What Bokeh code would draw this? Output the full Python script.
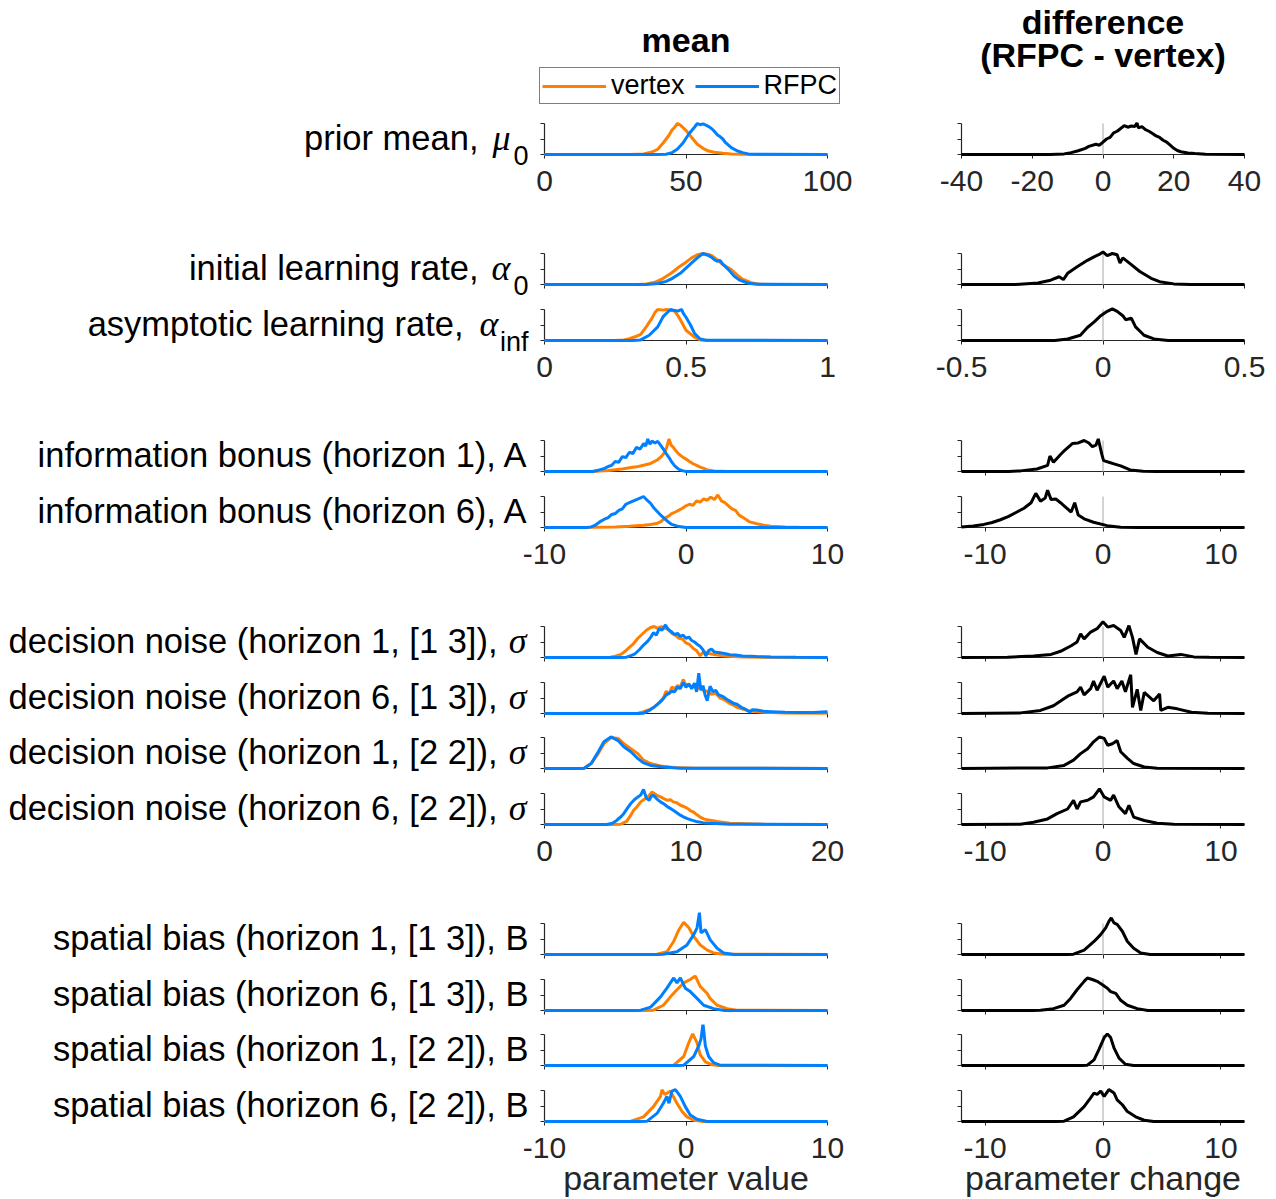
from bokeh.plotting import figure
from bokeh.models import Range1d, FixedTicker, Label, Legend, LegendItem, CustomJSTickFormatter
from bokeh.layouts import column, row
from bokeh.embed import file_html
from bokeh.resources import INLINE

# ---------------- data (y normalised to panel max) -------------
row_labels = [
    "prior mean,", "initial learning rate,", "asymptotic learning rate,",
    "information bonus (horizon 1), A", "information bonus (horizon 6), A",
    "decision noise (horizon 1, [1 3]),", "decision noise (horizon 6, [1 3]),",
    "decision noise (horizon 1, [2 2]),", "decision noise (horizon 6, [2 2]),",
    "spatial bias (horizon 1, [1 3]), B", "spatial bias (horizon 6, [1 3]), B",
    "spatial bias (horizon 1, [2 2]), B", "spatial bias (horizon 6, [2 2]), B",
]
row_symbols = ["μ", "α", "α", None, None, "σ", "σ", "σ", "σ", None, None, None, None]
row_subscripts = ["0", "0", "inf", None, None, None, None, None, None, None, None, None, None]

left_ranges = [(0, 100), (0, 1), (0, 1), (-10, 10), (-10, 10), (0, 20), (0, 20), (0, 20), (0, 20),
               (-10, 10), (-10, 10), (-10, 10), (-10, 10)]
right_ranges = [(-40, 40), (-0.5, 0.5), (-0.5, 0.5)] + [(-12, 12)] * 10
left_ticks = [[0, 50, 100], [0, 0.5, 1], [0, 0.5, 1], [-10, 0, 10], [-10, 0, 10],
              [0, 10, 20], [0, 10, 20], [0, 10, 20], [0, 10, 20],
              [-10, 0, 10], [-10, 0, 10], [-10, 0, 10], [-10, 0, 10]]
right_ticks = [[-40, -20, 0, 20, 40], [-0.5, 0, 0.5], [-0.5, 0, 0.5]] + [[-10, 0, 10]] * 10
y_ticks = [0, 0.5, 1]
no_change = 0

# row 1: prior mean
r1_vertex_x = [0, 30, 35, 38, 40, 42, 44, 45, 46, 47, 48, 50, 52, 54, 56, 58, 60, 63, 66, 70, 75, 100]
r1_vertex_y = [0, 0, 0.02, 0.08, 0.17, 0.38, 0.62, 0.78, 0.88, 1.0, 0.95, 0.78, 0.55, 0.33, 0.2, 0.11, 0.07, 0.04, 0.02, 0.01, 0, 0]
r1_rfpc_x = [0, 40, 43, 45, 47, 49, 51, 53, 54, 55, 56, 57, 58, 59, 60, 61, 62, 63, 64, 65, 66, 68, 70, 72, 75, 100]
r1_rfpc_y = [0, 0, 0.01, 0.06, 0.18, 0.38, 0.66, 0.88, 1.0, 0.96, 0.99, 0.95, 0.9, 0.84, 0.75, 0.64, 0.58, 0.5, 0.38, 0.3, 0.22, 0.12, 0.06, 0.02, 0.01, 0]
r1_diff_x = [-40, -15, -11, -9, -7, -5, -4, -2, -1, 0, 1, 2, 3, 4, 5, 6, 7, 8, 9, 9.6, 10, 11, 12, 13, 14, 15, 16, 17, 18, 19, 20, 21, 22, 24, 26, 29, 40]
r1_diff_y = [0, 0, 0.02, 0.06, 0.12, 0.2, 0.26, 0.33, 0.3, 0.4, 0.5, 0.55, 0.7, 0.75, 0.84, 0.93, 0.88, 0.92, 0.9, 1.02, 0.86, 0.9, 0.8, 0.75, 0.68, 0.6, 0.55, 0.46, 0.4, 0.3, 0.2, 0.13, 0.09, 0.05, 0.03, 0.01, 0]

# row 2: initial learning rate
r2_vertex_x = [0, 0.33, 0.36, 0.39, 0.42, 0.45, 0.47, 0.50, 0.52, 0.54, 0.56, 0.58, 0.59, 0.61, 0.63, 0.66, 0.68, 0.70, 0.73, 0.76, 0.8, 1]
r2_vertex_y = [0, 0, 0.02, 0.07, 0.2, 0.38, 0.53, 0.72, 0.86, 0.96, 1.0, 0.97, 0.94, 0.8, 0.64, 0.48, 0.31, 0.17, 0.06, 0.01, 0, 0]
r2_rfpc_x = [0, 0.36, 0.40, 0.43, 0.45, 0.48, 0.50, 0.52, 0.54, 0.56, 0.58, 0.59, 0.60, 0.61, 0.62, 0.63, 0.65, 0.67, 0.69, 0.72, 0.75, 1]
r2_rfpc_y = [0, 0, 0.03, 0.1, 0.19, 0.36, 0.53, 0.7, 0.86, 1.0, 0.93, 0.88, 0.8, 0.75, 0.78, 0.66, 0.48, 0.27, 0.14, 0.04, 0.01, 0]
r2_diff_x = [-0.5, -0.31, -0.23, -0.185, -0.155, -0.14, -0.125, -0.09, -0.055, -0.03, -0.015, 0, 0.015, 0.033, 0.05, 0.06, 0.07, 0.1, 0.13, 0.17, 0.2, 0.25, 0.31, 0.5]
r2_diff_y = [0, 0, 0.05, 0.14, 0.25, 0.16, 0.36, 0.58, 0.78, 0.9, 0.96, 1.05, 0.93, 1.0, 0.96, 0.69, 0.86, 0.64, 0.42, 0.2, 0.09, 0.02, 0, 0]

# row 3: asymptotic learning rate
r3_vertex_x = [0, 0.25, 0.28, 0.30, 0.32, 0.34, 0.36, 0.38, 0.39, 0.40, 0.42, 0.43, 0.45, 0.46, 0.47, 0.48, 0.50, 0.53, 0.55, 0.58, 1]
r3_vertex_y = [0, 0, 0.02, 0.06, 0.12, 0.2, 0.45, 0.72, 0.9, 1.0, 0.98, 1.0, 0.97, 0.95, 0.82, 0.67, 0.33, 0.11, 0.02, 0, 0]
r3_rfpc_x = [0, 0.31, 0.34, 0.37, 0.40, 0.42, 0.445, 0.46, 0.47, 0.485, 0.49, 0.50, 0.516, 0.53, 0.55, 0.57, 1]
r3_rfpc_y = [0, 0, 0.02, 0.17, 0.44, 0.78, 1.0, 0.97, 0.95, 1.0, 0.88, 0.75, 0.5, 0.23, 0.05, 0.01, 0]
r3_diff_x = [-0.5, -0.17, -0.125, -0.08, -0.055, -0.03, -0.008, 0.015, 0.033, 0.05, 0.07, 0.08, 0.1, 0.115, 0.145, 0.18, 0.23, 0.5]
r3_diff_y = [0, 0, 0.05, 0.17, 0.42, 0.61, 0.8, 0.94, 1.02, 0.94, 0.8, 0.67, 0.72, 0.44, 0.17, 0.05, 0, 0]

# row 4: information bonus h1
r4_vertex_x = [-10, -6.6, -5.5, -4.5, -4.0, -3.5, -3.0, -2.5, -2.0, -1.75, -1.5, -1.35, -1.2, -1.05, -0.9, -0.7, -0.5, -0.25, 0, 0.25, 0.5, 0.75, 1.0, 1.25, 1.5, 2.0, 3.0, 10]
r4_vertex_y = [0, 0, 0.03, 0.08, 0.12, 0.15, 0.2, 0.26, 0.38, 0.48, 0.62, 0.8, 1.05, 0.85, 0.78, 0.66, 0.56, 0.47, 0.4, 0.32, 0.25, 0.2, 0.14, 0.1, 0.05, 0.02, 0, 0]
r4_rfpc_x = [-10, -6.6, -6.3, -6.0, -5.75, -5.5, -5.25, -5.0, -4.75, -4.5, -4.25, -4.0, -3.75, -3.5, -3.25, -3.0, -2.85, -2.7, -2.55, -2.4, -2.2, -2.0, -1.8, -1.6, -1.4, -1.2, -1.0, -0.8, -0.5, -0.2, 0, 10]
r4_rfpc_y = [0, 0, 0.03, 0.07, 0.1, 0.16, 0.2, 0.32, 0.3, 0.48, 0.45, 0.62, 0.58, 0.78, 0.72, 0.9, 0.82, 1.05, 0.88, 0.98, 0.92, 0.97, 0.85, 0.72, 0.58, 0.45, 0.3, 0.18, 0.07, 0.02, 0, 0]
r4_diff_x = [-12, -8, -7, -5.6, -4.7, -4.5, -4.2, -3.6, -3.2, -2.6, -2.1, -1.6, -1.2, -0.9, -0.6, -0.4, -0.1, 0.05, 0.5, 1.0, 1.5, 2.3, 3.4, 4.5, 12]
r4_diff_y = [0, 0, 0.02, 0.08, 0.2, 0.5, 0.3, 0.55, 0.7, 0.9, 0.92, 1.0, 0.92, 0.8, 0.85, 1.05, 0.55, 0.35, 0.3, 0.24, 0.18, 0.05, 0.01, 0, 0]

# row 5: information bonus h6
r5_vertex_x = [-10, -6.5, -5, -4, -3, -2.5, -2, -1.75, -1.5, -1.25, -1, -0.75, -0.5, -0.25, 0, 0.25, 0.5, 0.75, 1, 1.25, 1.5, 1.75, 2, 2.25, 2.5, 2.75, 3, 3.25, 3.5, 3.75, 4, 4.25, 4.5, 5, 5.5, 6, 7, 8, 10]
r5_vertex_y = [0, 0.01, 0.02, 0.04, 0.07, 0.1, 0.14, 0.2, 0.3, 0.36, 0.45, 0.5, 0.56, 0.62, 0.7, 0.75, 0.72, 0.86, 0.82, 0.92, 0.88, 0.98, 0.9, 1.05, 0.86, 0.8, 0.7, 0.6, 0.55, 0.4, 0.33, 0.26, 0.18, 0.12, 0.07, 0.04, 0.02, 0.005, 0]
r5_rfpc_x = [-10, -7, -6.7, -6.4, -6.1, -5.8, -5.5, -5.25, -5.0, -4.75, -4.5, -4.25, -4.0, -3.75, -3.5, -3.25, -3.0, -2.75, -2.5, -2.25, -2.0, -1.75, -1.5, -1.25, -1.0, -0.5, 0, 10]
r5_rfpc_y = [0, 0, 0.02, 0.08, 0.18, 0.26, 0.32, 0.42, 0.45, 0.55, 0.6, 0.75, 0.8, 0.85, 0.9, 0.95, 1.0, 0.88, 0.78, 0.62, 0.5, 0.38, 0.28, 0.18, 0.1, 0.03, 0, 0]
r5_diff_x = [-12, -11, -10.1, -9.4, -8.7, -8.0, -7.3, -6.7, -6.1, -5.7, -5.3, -4.9, -4.7, -4.4, -4.0, -3.6, -3.3, -2.7, -2.4, -2.1, -1.6, -0.8, 0.35, 1.5, 3, 12]
r5_diff_y = [0.02, 0.05, 0.1, 0.16, 0.25, 0.36, 0.5, 0.62, 0.8, 1.1, 0.85, 0.95, 1.2, 0.9, 0.92, 0.8, 0.7, 0.5, 0.8, 0.4, 0.28, 0.17, 0.06, 0.01, 0, 0]

# rows 6-9: decision noise
r6_vertex_x = [0, 4.2, 4.65, 5.0, 5.4, 5.7, 6.0, 6.3, 6.6, 6.9, 7.2, 7.5, 7.75, 8.0, 8.25, 8.5, 8.75, 9.0, 9.25, 9.5, 9.75, 10.0, 10.25, 10.5, 10.75, 11.0, 11.25, 11.5, 12.0, 12.5, 13, 14, 16, 20]
r6_vertex_y = [0, 0, 0.01, 0.04, 0.1, 0.2, 0.33, 0.45, 0.62, 0.75, 0.88, 0.97, 1.0, 0.94, 1.0, 0.95, 0.9, 0.78, 0.72, 0.62, 0.6, 0.47, 0.42, 0.3, 0.22, 0.05, 0.2, 0.14, 0.1, 0.06, 0.04, 0.02, 0.005, 0]
r6_rfpc_x = [0, 5.4, 5.8, 6.1, 6.4, 6.7, 7.0, 7.3, 7.5, 7.7, 7.9, 8.1, 8.3, 8.55, 8.75, 9.0, 9.2, 9.4, 9.6, 9.8, 10.0, 10.2, 10.4, 10.6, 10.8, 11.0, 11.2, 11.4, 11.6, 11.8, 12.0, 12.4, 12.8, 13.1, 13.5, 14.0, 15.0, 16, 17.8, 20]
r6_rfpc_y = [0, 0, 0.01, 0.06, 0.12, 0.25, 0.4, 0.53, 0.65, 0.8, 0.72, 0.92, 0.88, 1.05, 0.9, 0.82, 0.74, 0.78, 0.68, 0.72, 0.62, 0.66, 0.55, 0.5, 0.42, 0.36, 0.25, 0.05, 0.22, 0.27, 0.18, 0.15, 0.12, 0.09, 0.08, 0.05, 0.03, 0.02, 0.01, 0]
r6_diff_x = [-12, -8.1, -5.9, -4.4, -3.6, -2.7, -2.2, -1.9, -1.6, -1.05, -0.5, 0, 0.4, 0.9, 1.5, 1.8, 2.2, 2.5, 2.8, 3.1, 3.8, 4.6, 5.5, 6.6, 7.7, 9, 12]
r6_diff_y = [0, 0.01, 0.05, 0.1, 0.2, 0.38, 0.5, 0.76, 0.6, 0.82, 0.93, 1.15, 0.98, 1.03, 0.87, 0.65, 1.03, 0.65, 0.1, 0.6, 0.33, 0.16, 0.05, 0.1, 0.02, 0.01, 0]

r7_vertex_x = [0, 6.2, 6.6, 7.0, 7.5, 7.8, 8.1, 8.4, 8.6, 8.8, 9.0, 9.2, 9.4, 9.6, 9.8, 10.0, 10.2, 10.4, 10.6, 10.8, 11.0, 11.2, 11.5, 11.8, 12.1, 12.4, 12.7, 13.0, 13.3, 13.6, 14.0, 14.5, 15.5, 17, 20]
r7_vertex_y = [0, 0, 0.01, 0.06, 0.14, 0.22, 0.35, 0.5, 0.72, 0.62, 0.85, 0.8, 0.9, 0.85, 1.1, 0.9, 0.95, 0.85, 0.9, 0.8, 0.85, 0.75, 0.72, 0.62, 0.65, 0.5, 0.45, 0.35, 0.28, 0.2, 0.14, 0.08, 0.04, 0.02, 0.01]
r7_rfpc_x = [0, 6.6, 7.0, 7.4, 7.7, 8.0, 8.2, 8.4, 8.6, 8.8, 9.0, 9.2, 9.4, 9.6, 9.8, 10.0, 10.2, 10.4, 10.6, 10.75, 10.9, 11.05, 11.2, 11.35, 11.5, 11.7, 11.9, 12.1, 12.3, 12.6, 12.9, 13.1, 13.4, 13.6, 13.9, 14.2, 14.5, 14.7, 15.0, 15.5, 16.0, 17, 18, 19, 20]
r7_rfpc_y = [0, 0, 0.01, 0.1, 0.19, 0.3, 0.38, 0.48, 0.6, 0.65, 0.72, 0.7, 0.85, 0.8, 1.0, 0.85, 0.95, 0.8, 0.98, 0.7, 1.3, 0.75, 0.9, 0.6, 0.41, 0.88, 0.7, 0.75, 0.6, 0.55, 0.45, 0.4, 0.32, 0.3, 0.2, 0.14, 0.05, 0.12, 0.11, 0.07, 0.06, 0.04, 0.03, 0.03, 0.06]
r7_diff_x = [-12, -7, -5.3, -4.2, -3.6, -2.9, -2.2, -1.9, -1.6, -1.05, -0.8, -0.5, 0.1, 0.4, 0.9, 1.2, 1.6, 1.9, 2.35, 2.5, 2.9, 3.2, 3.5, 4.3, 4.8, 4.9, 5.5, 6.3, 7.5, 8.9, 12]
r7_diff_y = [0, 0.02, 0.1, 0.25, 0.4, 0.58, 0.7, 0.85, 0.6, 0.8, 1.05, 0.75, 1.2, 0.85, 1.05, 0.8, 1.05, 0.7, 1.25, 0.2, 0.78, 0.1, 0.68, 0.41, 0.63, 0.1, 0.2, 0.15, 0.04, 0.01, 0]

r8_vertex_x = [0, 2.4, 2.8, 3.3, 3.8, 4.2, 4.7, 5.2, 5.6, 6.1, 6.6, 7.0, 7.5, 8.2, 9.1, 10.7, 20]
r8_vertex_y = [0, 0, 0.01, 0.16, 0.48, 0.8, 1.0, 0.97, 0.8, 0.64, 0.48, 0.27, 0.16, 0.08, 0.03, 0.01, 0]
r8_rfpc_x = [0, 2.4, 2.8, 3.3, 3.8, 4.2, 4.7, 5.2, 5.6, 6.1, 6.6, 7.0, 7.5, 8.4, 9.6, 20]
r8_rfpc_y = [0, 0, 0.01, 0.16, 0.54, 0.86, 1.02, 0.9, 0.7, 0.54, 0.32, 0.18, 0.1, 0.05, 0.01, 0]
r8_diff_x = [-12, -4.7, -3.3, -2.5, -1.9, -1.3, -0.8, -0.3, 0.1, 0.4, 0.8, 1.2, 1.5, 2.1, 2.6, 3.5, 4.6, 12]
r8_diff_y = [0, 0.02, 0.1, 0.27, 0.48, 0.64, 0.86, 1.02, 0.97, 0.75, 0.8, 0.9, 0.54, 0.32, 0.16, 0.05, 0.01, 0]

r9_vertex_x = [0, 4.6, 5.4, 5.8, 6.1, 6.3, 6.5, 6.8, 7.0, 7.3, 7.6, 7.9, 8.2, 8.5, 8.7, 8.9, 9.1, 9.35, 9.6, 9.85, 10.1, 10.3, 10.5, 10.75, 11.0, 11.25, 11.5, 12.2, 13.1, 15.5, 20]
r9_vertex_y = [0, 0, 0.01, 0.1, 0.3, 0.46, 0.55, 0.73, 0.8, 0.89, 1.05, 0.95, 0.89, 0.82, 0.78, 0.8, 0.73, 0.7, 0.62, 0.58, 0.52, 0.45, 0.41, 0.32, 0.24, 0.18, 0.15, 0.1, 0.04, 0.01, 0]
r9_rfpc_x = [0, 4.4, 4.8, 5.1, 5.4, 5.6, 5.85, 6.1, 6.35, 6.6, 6.8, 7.0, 7.2, 7.4, 7.55, 7.7, 7.95, 8.2, 8.45, 8.7, 8.9, 9.1, 9.35, 9.6, 9.85, 10.1, 10.4, 10.7, 11.2, 11.7, 13.1, 20]
r9_rfpc_y = [0, 0, 0.04, 0.13, 0.25, 0.35, 0.52, 0.68, 0.8, 0.89, 0.95, 1.13, 0.85, 0.78, 0.92, 0.94, 0.82, 0.73, 0.66, 0.57, 0.52, 0.46, 0.38, 0.3, 0.24, 0.19, 0.14, 0.1, 0.06, 0.04, 0.01, 0]
r9_diff_x = [-12, -7, -5.9, -4.7, -3.9, -3.0, -2.5, -2.2, -1.9, -1.3, -0.8, -0.3, 0.1, 0.65, 0.9, 1.35, 1.9, 2.2, 2.6, 3.5, 4.6, 6, 12]
r9_diff_y = [0, 0.01, 0.07, 0.18, 0.35, 0.5, 0.78, 0.5, 0.73, 0.78, 0.89, 1.15, 0.89, 0.78, 0.95, 0.57, 0.35, 0.62, 0.24, 0.13, 0.04, 0.01, 0]

# rows 10-13: spatial bias
r10_vertex_x = [-10, -2.5, -2.05, -1.35, -0.87, -0.5, -0.16, 0.2, 0.55, 1.0, 1.5, 1.95, 2.7, 10]
r10_vertex_y = [0, 0, 0.01, 0.09, 0.42, 0.8, 1.04, 0.86, 0.58, 0.31, 0.14, 0.05, 0.01, 0]
r10_rfpc_x = [-10, -2, -1.6, -0.64, 0.07, 0.55, 0.78, 0.95, 1.06, 1.37, 1.7, 2.2, 2.66, 3.4, 10]
r10_rfpc_y = [0, 0, 0.01, 0.09, 0.31, 0.64, 0.86, 1.35, 0.7, 0.8, 0.48, 0.2, 0.05, 0, 0]
r10_diff_x = [-12, -3, -2.5, -1.6, -0.76, -0.2, 0.23, 0.5, 0.7, 0.93, 1.2, 1.64, 2.07, 2.6, 3.2, 4.0, 12]
r10_diff_y = [0, 0, 0.01, 0.14, 0.42, 0.64, 0.86, 1.07, 1.18, 1.02, 0.97, 0.75, 0.42, 0.2, 0.05, 0, 0]

r11_vertex_x = [-10, -2.8, -2.3, -1.6, -1.1, -0.64, -0.16, 0.3, 0.66, 1.0, 1.5, 1.7, 2.2, 2.9, 3.6, 10]
r11_vertex_y = [0, 0, 0.01, 0.17, 0.44, 0.67, 0.89, 1.0, 1.11, 0.78, 0.55, 0.39, 0.17, 0.06, 0.01, 0]
r11_rfpc_x = [-10, -3.6, -3.2, -2.5, -1.8, -1.35, -0.87, -0.64, -0.4, -0.05, 0.3, 0.78, 1.25, 1.95, 2.7, 10]
r11_rfpc_y = [0, 0, 0.01, 0.11, 0.44, 0.72, 1.05, 0.89, 1.05, 0.72, 0.61, 0.39, 0.17, 0.06, 0, 0]
r11_diff_x = [-12, -6, -5.3, -4.2, -3.3, -2.75, -2.2, -1.6, -1.33, -0.9, -0.5, -0.05, 0.37, 0.65, 1.08, 1.5, 2.07, 2.9, 3.8, 12]
r11_diff_y = [0, 0, 0.01, 0.06, 0.17, 0.39, 0.67, 0.94, 1.05, 1.0, 0.94, 0.83, 0.72, 0.61, 0.55, 0.33, 0.17, 0.06, 0, 0]

r12_vertex_x = [-10, -1.3, -0.87, -0.16, 0.2, 0.47, 0.78, 1.0, 1.37, 1.84, 2.3, 10]
r12_vertex_y = [0, 0, 0.01, 0.29, 0.74, 1.02, 0.74, 0.35, 0.12, 0.02, 0, 0]
r12_rfpc_x = [-10, -0.6, -0.16, 0.55, 0.9, 1.06, 1.2, 1.37, 1.6, 1.95, 2.4, 10]
r12_rfpc_y = [0, 0, 0.01, 0.29, 0.63, 0.85, 1.35, 0.63, 0.29, 0.09, 0.01, 0]
r12_diff_x = [-12, -1.8, -1.33, -0.76, -0.34, 0.1, 0.37, 0.65, 0.93, 1.36, 1.9, 2.6, 12]
r12_diff_y = [0, 0, 0.01, 0.18, 0.52, 0.9, 1.02, 0.9, 0.57, 0.24, 0.04, 0, 0]

r13_vertex_x = [-10, -4.4, -3.9, -3.0, -2.3, -1.8, -1.7, -1.5, -1.1, -0.64, -0.28, 0.07, 0.55, 1.25, 10]
r13_vertex_y = [0, 0, 0.01, 0.15, 0.48, 0.81, 1.02, 0.87, 0.98, 0.59, 0.32, 0.15, 0.04, 0, 0]
r13_rfpc_x = [-10, -3.2, -2.75, -2.05, -1.6, -1.35, -1.2, -1.0, -0.75, -0.4, -0.05, 0.3, 0.78, 1.5, 10]
r13_rfpc_y = [0, 0, 0.01, 0.26, 0.59, 0.81, 0.59, 0.98, 1.03, 0.81, 0.48, 0.21, 0.07, 0, 0]
r13_diff_x = [-12, -4, -3.3, -2.5, -1.6, -1.05, -0.76, -0.5, -0.2, 0.1, 0.5, 0.93, 1.2, 1.64, 2.07, 2.77, 3.5, 4.3, 12]
r13_diff_y = [0, 0, 0.01, 0.15, 0.48, 0.76, 0.92, 0.87, 0.98, 0.81, 1.03, 0.92, 0.7, 0.54, 0.32, 0.15, 0.04, 0, 0]

vertex_x = [r1_vertex_x, r2_vertex_x, r3_vertex_x, r4_vertex_x, r5_vertex_x, r6_vertex_x, r7_vertex_x,
            r8_vertex_x, r9_vertex_x, r10_vertex_x, r11_vertex_x, r12_vertex_x, r13_vertex_x]
vertex_y = [r1_vertex_y, r2_vertex_y, r3_vertex_y, r4_vertex_y, r5_vertex_y, r6_vertex_y, r7_vertex_y,
            r8_vertex_y, r9_vertex_y, r10_vertex_y, r11_vertex_y, r12_vertex_y, r13_vertex_y]
rfpc_x = [r1_rfpc_x, r2_rfpc_x, r3_rfpc_x, r4_rfpc_x, r5_rfpc_x, r6_rfpc_x, r7_rfpc_x,
          r8_rfpc_x, r9_rfpc_x, r10_rfpc_x, r11_rfpc_x, r12_rfpc_x, r13_rfpc_x]
rfpc_y = [r1_rfpc_y, r2_rfpc_y, r3_rfpc_y, r4_rfpc_y, r5_rfpc_y, r6_rfpc_y, r7_rfpc_y,
          r8_rfpc_y, r9_rfpc_y, r10_rfpc_y, r11_rfpc_y, r12_rfpc_y, r13_rfpc_y]
diff_x = [r1_diff_x, r2_diff_x, r3_diff_x, r4_diff_x, r5_diff_x, r6_diff_x, r7_diff_x,
          r8_diff_x, r9_diff_x, r10_diff_x, r11_diff_x, r12_diff_x, r13_diff_x]
diff_y = [r1_diff_y, r2_diff_y, r3_diff_y, r4_diff_y, r5_diff_y, r6_diff_y, r7_diff_y,
          r8_diff_y, r9_diff_y, r10_diff_y, r11_diff_y, r12_diff_y, r13_diff_y]

# ---------------- styling / layout (pixels) ----------------
AXIS = "#262626"
ORANGE = "#FF8000"
BLUE = "#0080FF"
FONT = "Liberation Sans"
GREEK = "Liberation Serif"
LABEL_SIZE = "34.5px"
PX_PER_UNIT_Y = 31          # panel height in px for y = 0..1
PANEL_W = 283               # panel width in px
L_FIG_W, L_DATA_LEFT = 877, 544   # left figure spans page x 0..877, panel starts at 544
R_FIG_W, R_DATA_LEFT = 391, 84    # right figure spans page x 877..1268, panel starts at 961
ROW_EDGES = [0, 225, 303, 410, 485, 597, 670, 726, 782, 890, 967, 1024, 1080, 1198]
BASELINES = [154, 284, 340, 471, 527, 657, 713, 768, 824, 954, 1010, 1065, 1121]
SHOW_TICKLABELS = [True, False, True, False, True, False, False, False, True, False, False, False, True]
# row-label right edges (page x): main text, symbol ; subscript always ends at 528
SYM_RIGHT = {"μ0": (478, 510), "α0": (478, 510), "αinf": (463, 498), "σ": (497, 526)}
LABEL_RIGHT = 528
ALPHA_SHIFT = 13            # alphabetic-baseline correction for Label placement

fmt = CustomJSTickFormatter(code="return String(tick);")


def make_panel(fig_w, data_left, xr, ticks, top, bottom, base, show):
    h = bottom - top
    ppu = PANEL_W / (xr[1] - xr[0])
    x_range = Range1d(xr[0] - data_left / ppu, xr[1] + (fig_w - data_left - PANEL_W) / ppu)
    y_range = Range1d(-(bottom - base) / PX_PER_UNIT_Y, (base - top) / PX_PER_UNIT_Y)
    p = figure(width=fig_w, height=h, x_range=x_range, y_range=y_range,
               output_backend="svg", toolbar_location=None, title=None,
               min_border=0, min_border_top=0, min_border_bottom=0,
               min_border_left=0, min_border_right=0)
    p.outline_line_color = None
    p.background_fill_color = "white"
    p.border_fill_color = "white"
    p.xgrid.visible = False
    p.ygrid.visible = False
    xa = p.xaxis[0]
    xa.fixed_location = 0
    xa.bounds = (xr[0], xr[1])
    xa.level = "underlay"
    xa.ticker = FixedTicker(ticks=ticks)
    xa.formatter = fmt
    xa.axis_line_color = AXIS
    xa.axis_line_width = 1.2
    xa.major_tick_line_color = AXIS
    xa.major_tick_in = 0
    xa.major_tick_out = 4
    xa.minor_tick_line_color = None
    xa.major_label_standoff = 12 if show else 0
    xa.major_label_text_color = AXIS if show else None
    xa.major_label_text_font = FONT
    xa.major_label_text_font_size = "30px"
    ya = p.yaxis[0]
    ya.fixed_location = xr[0]
    ya.bounds = (y_ticks[0], y_ticks[-1])
    ya.level = "underlay"
    ya.ticker = FixedTicker(ticks=y_ticks)
    ya.axis_line_color = AXIS
    ya.axis_line_width = 1.2
    ya.major_tick_line_color = AXIS
    ya.major_tick_in = 0
    ya.major_tick_out = 4
    ya.minor_tick_line_color = None
    ya.major_label_text_color = None
    ya.major_label_standoff = 0
    return p


def txt(p, x, y, text, size, font=FONT, style="normal", align="right", baseline="middle", color="black"):
    p.add_layout(Label(x=x, y=y, x_units="screen", y_units="screen", text=text,
                       text_align=align, text_baseline=baseline, text_font=font,
                       text_font_style=style, text_font_size=size, text_color=color))


rows = []
for i in range(13):
    top, bottom, base, show = ROW_EDGES[i], ROW_EDGES[i + 1], BASELINES[i], SHOW_TICKLABELS[i]
    pl = make_panel(L_FIG_W, L_DATA_LEFT, left_ranges[i], left_ticks[i], top, bottom, base, show)
    rv = pl.line(vertex_x[i], vertex_y[i], line_color=ORANGE, line_width=3)
    rb = pl.line(rfpc_x[i], rfpc_y[i], line_color=BLUE, line_width=3)

    pr = make_panel(R_FIG_W, R_DATA_LEFT, right_ranges[i], right_ticks[i], top, bottom, base, show)
    pr.segment(x0=[no_change], y0=[y_ticks[0]], x1=[no_change], y1=[y_ticks[-1]],
               line_color="#C4C4C4", line_width=1.5)
    pr.line(diff_x[i], diff_y[i], line_color="black", line_width=3)

    # row label (y measured upward from figure bottom)
    ymid = bottom - (base - PX_PER_UNIT_Y / 2) + 1.5
    sym, sub = row_symbols[i], row_subscripts[i]
    if sym is None:
        txt(pl, LABEL_RIGHT, ymid, row_labels[i], LABEL_SIZE)
    else:
        main_r, sym_r = SYM_RIGHT[sym + (sub or "")]
        txt(pl, main_r, ymid, row_labels[i], LABEL_SIZE)
        txt(pl, sym_r, ymid, sym, "36px", font=GREEK, style="italic")
        if sub is not None:
            txt(pl, LABEL_RIGHT, ymid - 18, sub, "27px")

    if i == 0:
        cx_l = L_DATA_LEFT + PANEL_W / 2
        cx_r = R_DATA_LEFT + PANEL_W / 2
        txt(pl, cx_l, bottom - 52 + ALPHA_SHIFT, "mean", "34px", style="bold", align="center", baseline="alphabetic")
        txt(pr, cx_r, bottom - 34 + ALPHA_SHIFT, "difference", "34px", style="bold", align="center", baseline="alphabetic")
        txt(pr, cx_r, bottom - 67 + ALPHA_SHIFT, "(RFPC - vertex)", "34px", style="bold", align="center", baseline="alphabetic")
        legend = Legend(items=[LegendItem(label="vertex", renderers=[rv]),
                               LegendItem(label="RFPC", renderers=[rb])],
                        location=(539, bottom - 104), orientation="horizontal",
                        border_line_color="black", border_line_width=1,
                        background_fill_color="white", background_fill_alpha=1,
                        label_text_font=FONT, label_text_font_size="27px", label_text_color="black",
                        glyph_width=64, glyph_height=20, label_standoff=5, spacing=10,
                        padding=2, margin=0)
        pl.add_layout(legend, "center")
    if i == 12:
        cx_l = L_DATA_LEFT + PANEL_W / 2
        cx_r = R_DATA_LEFT + PANEL_W / 2
        txt(pl, cx_l, 1198 - 1190 + ALPHA_SHIFT, "parameter value", "34px", align="center", baseline="alphabetic", color=AXIS)
        txt(pr, cx_r, 1198 - 1190 + ALPHA_SHIFT, "parameter change", "34px", align="center", baseline="alphabetic", color=AXIS)
    rows.append(row(pl, pr, spacing=0))

layout = column(*rows, spacing=0)
open("out.html", "w").write(file_html(layout, INLINE))
